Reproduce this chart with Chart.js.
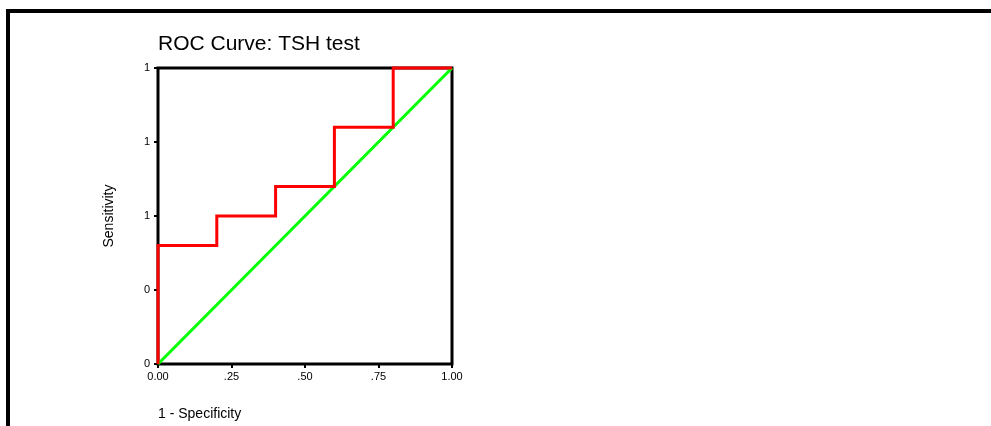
<!DOCTYPE html>
<html>
<head>
<meta charset="utf-8">
<script src="https://cdn.jsdelivr.net/npm/chart.js@4"></script>
<style>
  html, body { margin: 0; padding: 0; background: #fff; overflow: hidden; }
  #wrap { position: relative; width: 991px; height: 426px; }
  #frame { position: absolute; left: 6px; top: 9px; right: 0; bottom: 0;
           border-top: 4px solid #000; border-left: 4px solid #000; pointer-events: none; }
  canvas { position: absolute; left: 0; top: 0; }
</style>
</head>
<body>
<div id="wrap">
  <canvas id="c" width="991" height="426"></canvas>
  <div id="frame"></div>
</div>
<script>
const chartTitle = "ROC Curve: TSH test";
const xTitle = "1 - Specificity";
const yTitle = "Sensitivity";

// ROC curve (step points)
const rocFpr = [0, 0, 0.2, 0.2, 0.4, 0.4, 0.6, 0.6, 0.8, 0.8, 1];
const rocTpr = [0, 0.4, 0.4, 0.5, 0.5, 0.6, 0.6, 0.8, 0.8, 1, 1];

// reference diagonal
const refX = [0, 1];
const refY = [0, 1];

const xTickValues = [0, 0.25, 0.5, 0.75, 1];
const xTickLabels = ["0.00", ".25", ".50", ".75", "1.00"];
const yTickValues = [0, 0.25, 0.5, 0.75, 1];
const yTickLabels = ["0", "0", "1", "1", "1"];

const FONT = "'Liberation Sans', Arial, Helvetica, sans-serif";

const rocPoints = rocFpr.map((x, i) => ({ x: x, y: rocTpr[i] }));
const refPoints = refX.map((x, i) => ({ x: x, y: refY[i] }));

const textPlugin = {
  id: 'texts',
  beforeDatasetsDraw(chart) {
    const { ctx, chartArea: a } = chart;
    ctx.save();
    ctx.strokeStyle = '#000';
    ctx.lineWidth = 3;
    ctx.strokeRect(a.left, a.top, a.right - a.left, a.bottom - a.top);
    ctx.restore();
  },
  afterDraw(chart) {
    const { ctx, chartArea: a } = chart;
    ctx.save();
    ctx.fillStyle = '#000';
    ctx.textAlign = 'left';
    ctx.textBaseline = 'alphabetic';
    ctx.font = "21px " + FONT;
    ctx.fillText(chartTitle, a.left, 50);
    ctx.font = "14px " + FONT;
    ctx.fillText(xTitle, a.left, 418);
    ctx.translate(113, (a.top + a.bottom) / 2);
    ctx.rotate(-Math.PI / 2);
    ctx.textAlign = 'center';
    ctx.textBaseline = 'alphabetic';
    ctx.fillText(yTitle, 0, 0);
    ctx.restore();
  }
};

new Chart(document.getElementById('c'), {
  type: 'scatter',
  data: {
    datasets: [
      { data: rocPoints, showLine: true, borderColor: '#ff0000', borderWidth: 3,
        pointRadius: 0, fill: false, tension: 0, clip: false, borderJoinStyle: 'miter' },
      { data: refPoints, showLine: true, borderColor: '#00ff00', borderWidth: 3,
        pointRadius: 0, fill: false, tension: 0, clip: false }
    ]
  },
  options: {
    responsive: false,
    animation: false,
    layout: { padding: { top: 68, right: 539, left: 0, bottom: 0 } },
    plugins: { legend: { display: false }, tooltip: { enabled: false }, title: { display: false } },
    scales: {
      x: {
        type: 'linear', min: 0, max: 1,
        afterBuildTicks(scale) { scale.ticks = xTickValues.map(v => ({ value: v })); },
        afterFit(scale) { scale.height = 62; },
        ticks: {
          callback(v) { const i = xTickValues.indexOf(v); return i >= 0 ? xTickLabels[i] : ''; },
          font: { size: 11, family: FONT }, color: '#000', padding: 2, maxRotation: 0, autoSkip: false
        },
        grid: { drawOnChartArea: false, drawTicks: true, tickLength: 4, color: '#000', lineWidth: 2 },
        border: { display: false }
      },
      y: {
        type: 'linear', min: 0, max: 1,
        afterBuildTicks(scale) { scale.ticks = yTickValues.map(v => ({ value: v })); },
        afterFit(scale) { scale.width = 158; },
        ticks: {
          callback(v) { const i = yTickValues.indexOf(v); return i >= 0 ? yTickLabels[i] : ''; },
          font: { size: 11, family: FONT }, color: '#000', padding: 4, autoSkip: false
        },
        grid: { drawOnChartArea: false, drawTicks: true, tickLength: 4, color: '#000', lineWidth: 2 },
        border: { display: false }
      }
    }
  },
  plugins: [textPlugin]
});
</script>
</body>
</html>
